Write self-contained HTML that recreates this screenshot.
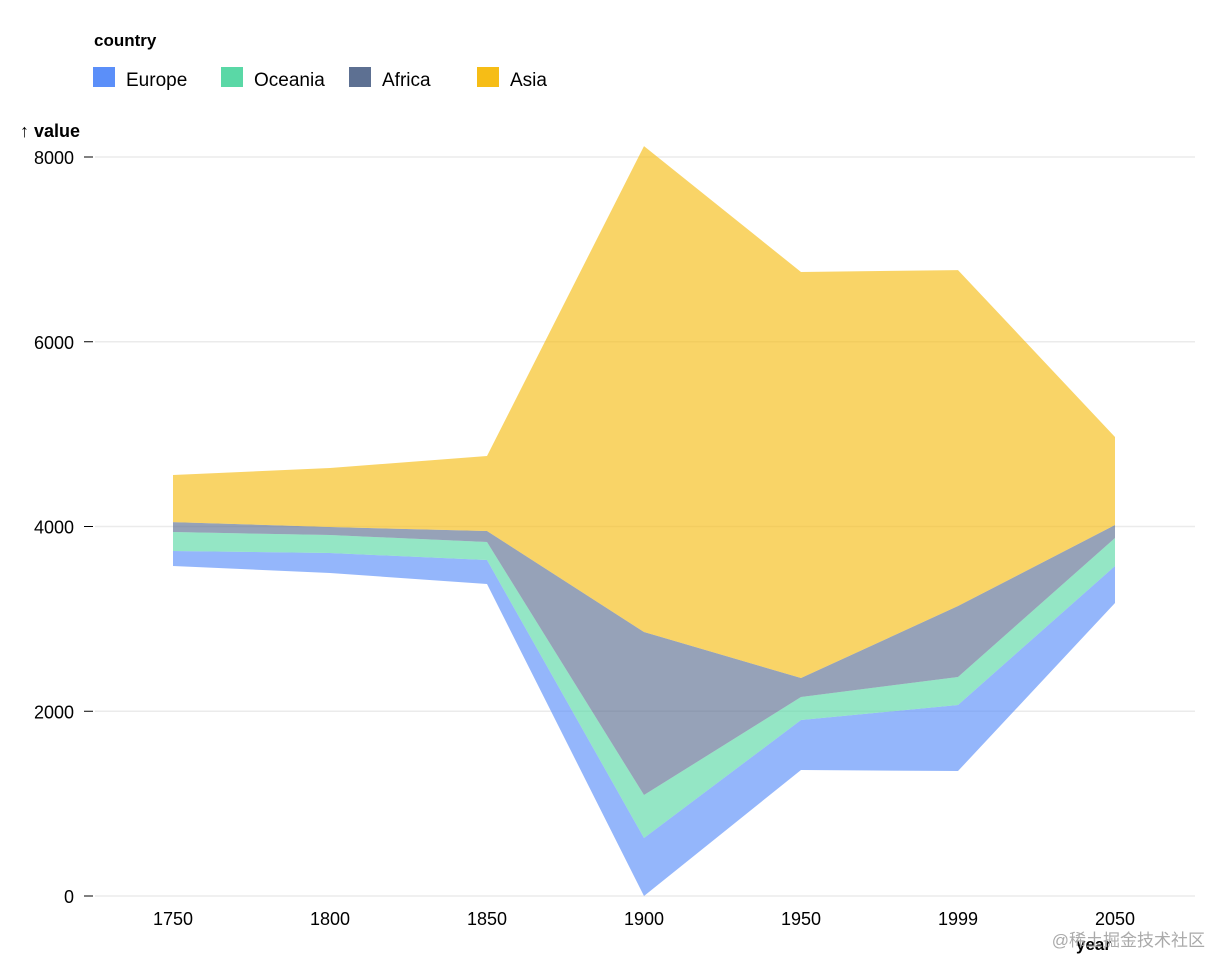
<!DOCTYPE html>
<html><head><meta charset="utf-8"><style>
body{margin:0;background:#fff;font-family:"Liberation Sans","Noto Sans CJK SC",sans-serif;}
</style></head><body>
<svg width="1230" height="974" font-family="Liberation Sans, Noto Sans CJK SC, sans-serif">
<g>
<text x="94" y="46" font-size="17" font-weight="bold" fill="#000">country</text>
<g><rect x="93" y="67" width="22" height="20" fill="#5B8FF9"/><text x="126" y="86" font-size="19">Europe</text></g>
<g><rect x="221" y="67" width="22" height="20" fill="#5AD8A6"/><text x="254" y="86" font-size="19">Oceania</text></g>
<g><rect x="349" y="67" width="22" height="20" fill="#5D7092"/><text x="382" y="86" font-size="19">Africa</text></g>
<g><rect x="477" y="67" width="22" height="20" fill="#F6BD16"/><text x="510" y="86" font-size="19">Asia</text></g>
</g>
<text x="20" y="137" font-size="18" font-weight="bold">↑ value</text>
<g id="grid"></g><g id="areas"></g><g id="axes"></g>
<text x="1076" y="950" font-size="17" font-weight="bold">year</text>
<text x="1205" y="946" font-size="17" fill="#aaa" text-anchor="end">@稀土掘金技术社区</text>
</svg>
<script>
const categories=["1750","1800","1850","1900","1950","1999","2050"];
const baseline=[3572,3497,3377,0,1364,1353,3172];
const europe=[163,216,260,628,541,715,400];
const oceania=[205,195,195,465,249,303,303];
const africa=[108,86,119,1765,206,768,141];
const asia=[509,639,812,5260,4395,3637,953];
const yTicks=[0,2000,4000,6000,8000];
const NS="http://www.w3.org/2000/svg";
const xs=i=>173+i*(1115-173)/(categories.length-1);
const ys=v=>896-v*(896-157)/8000;
function mk(t,a,p){const e=document.createElementNS(NS,t);for(const k in a)e.setAttribute(k,a[k]);p.appendChild(e);return e;}
const grid=document.getElementById('grid'),areas=document.getElementById('areas'),axes=document.getElementById('axes');
yTicks.forEach(v=>{
 const l=mk('line',{x1:95,x2:1195,y1:ys(v),y2:ys(v),stroke:'#ebebeb','stroke-width':1.5},grid);
 
 
 const tk=mk('line',{x1:84,x2:93,y1:ys(v),y2:ys(v),stroke:'#000'},axes);
 
 
 const t=mk('text',{x:74,y:ys(v)+7,'font-size':18,'text-anchor':'end'},axes);t.textContent=v;
 
 
});
categories.forEach((c,i)=>{
 const t=mk('text',{x:xs(i),y:925,'font-size':18,'text-anchor':'middle'},axes);t.textContent=c;
 
 
});
const series=[["europe",europe,"#5B8FF9"],["oceania",oceania,"#5AD8A6"],["africa",africa,"#5D7092"],["asia",asia,"#F6BD16"]];
let lower=baseline.slice();
series.forEach(([n,vals,col])=>{
 const upper=lower.map((b,i)=>b+vals[i]);
 let d='M'+upper.map((v,i)=>xs(i)+','+ys(v)).join('L');
 for(let i=lower.length-1;i>=0;i--)d+='L'+xs(i)+','+ys(lower[i]);
 const p=mk('path',{d:d+'Z',fill:col,'fill-opacity':0.65},areas);
 
 
 lower=upper;
});
</script>
</body></html>
